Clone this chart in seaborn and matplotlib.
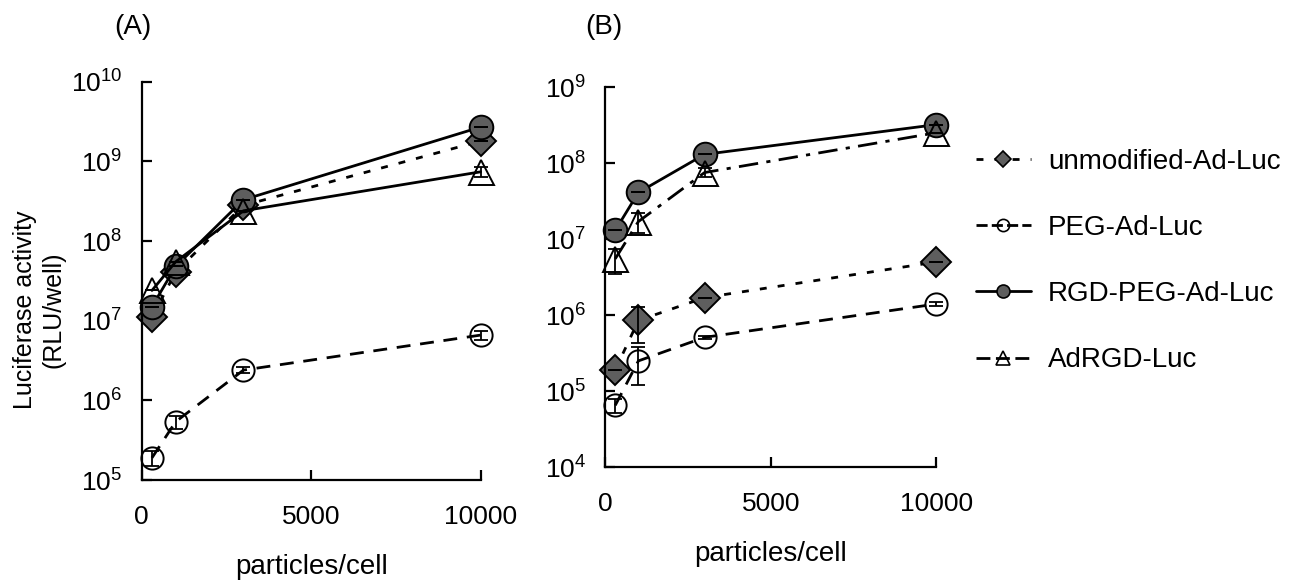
import matplotlib
matplotlib.use("Agg")
import matplotlib.pyplot as plt
from matplotlib.lines import Line2D
import seaborn as sns

particles = [300, 1000, 3000, 10000]

series_names = ["unmodified-Ad-Luc", "PEG-Ad-Luc", "RGD-PEG-Ad-Luc", "AdRGD-Luc"]

# panel A (RLU/well)
unmod_A = [1.1e7, 4.1e7, 2.8e8, 1.8e9]
peg_A = [1.9e5, 5.4e5, 2.4e6, 6.6e6]
rgd_A = [1.5e7, 4.8e7, 3.3e8, 2.7e9]
adrgd_A = [2.4e7, 5.5e7, 2.4e8, 7.4e8]
unmod_A_err = [0, 0, 0, 0]
peg_A_err = [4e4, 1e5, 2e5, 8e5]
rgd_A_err = [0, 0, 0, 0]
adrgd_A_err = [0, 0, 0, 1e8]

# panel B (RLU/well)
unmod_B = [1.9e5, 8.5e5, 1.7e6, 5.0e6]
peg_B = [6.5e4, 2.5e5, 5.1e5, 1.4e6]
rgd_B = [1.3e7, 4.1e7, 1.3e8, 3.2e8]
adrgd_B = [5.5e6, 1.7e7, 7.5e7, 2.5e8]
unmod_B_err = [0, 4.2e5, 0, 0]
peg_B_err = [1.4e4, 1.3e5, 2e4, 1e5]
rgd_B_err = [0, 0, 0, 0]
adrgd_B_err = [2e6, 5e6, 1e7, 0]

sns.set_theme(style="ticks")
plt.rcParams["font.family"] = ["Liberation Sans", "DejaVu Sans"]
plt.rcParams["mathtext.fontset"] = "custom"
plt.rcParams["mathtext.rm"] = "Liberation Sans"
plt.rcParams["text.color"] = "black"
plt.rcParams["axes.labelcolor"] = "black"

grey = "#5e5e5e"
dotted = (0, (2.5, 4))
dashed = (0, (5, 3.5))
dashdot = (0, (7, 3, 1.5, 3))

marker_style = {
    "unmodified-Ad-Luc": dict(marker="D", markersize=15, markerfacecolor=grey),
    "PEG-Ad-Luc": dict(marker="o", markersize=16, markerfacecolor="none"),
    "RGD-PEG-Ad-Luc": dict(marker="o", markersize=17, markerfacecolor=grey),
    "AdRGD-Luc": dict(marker="^", markersize=18, markerfacecolor="none"),
}


def draw_panel(ax, values, errors, styles, ylim):
    for name, y, err, ls in zip(series_names, values, errors, styles):
        sns.lineplot(x=particles, y=y, ax=ax, color="black", linewidth=2,
                     linestyle=ls, markeredgecolor="black", clip_on=False,
                     markeredgewidth=1.4, **marker_style[name])
        ax.errorbar(particles, y, yerr=err, fmt="none", ecolor="black",
                    elinewidth=1.3, capsize=5, capthick=1.3, clip_on=False)
    ax.set_yscale("log")
    ax.set_ylim(*ylim)
    ax.set_xlim(0, 10000)
    ax.set_xticks([0, 5000, 10000])
    ax.minorticks_off()
    sns.despine(ax=ax)
    for s in ["left", "bottom"]:
        ax.spines[s].set_linewidth(1.6)
        ax.spines[s].set_color("black")
    ax.tick_params(axis="both", direction="in", length=7, width=1.6,
                   labelsize=19, colors="black")
    ax.tick_params(axis="x", pad=18)
    ax.tick_params(axis="y", pad=14)
    ax.set_xlabel("particles/cell", fontsize=20, labelpad=18)
    ax.grid(False)


fig = plt.figure(figsize=(13.13, 5.84), dpi=100)
axA = fig.add_axes([0.108, 0.178, 0.258, 0.682])
axB = fig.add_axes([0.461, 0.200, 0.252, 0.651])

draw_panel(axA, [unmod_A, peg_A, rgd_A, adrgd_A],
           [unmod_A_err, peg_A_err, rgd_A_err, adrgd_A_err],
           [dotted, dashed, "-", "-"], (1e5, 1e10))
draw_panel(axB, [unmod_B, peg_B, rgd_B, adrgd_B],
           [unmod_B_err, peg_B_err, rgd_B_err, adrgd_B_err],
           [dotted, dashed, "-", dashdot], (1e4, 1e9))

fig.text(0.087, 0.953, "(A)", fontsize=20, va="center")
fig.text(0.446, 0.953, "(B)", fontsize=20, va="center")
fig.text(0.030, 0.47, "Luciferase activity\n(RLU/well)", rotation=90,
         fontsize=18, ha="center", va="center", linespacing=1.25)

legend_styles = [dotted, (0, (4, 1.5)), "-", (0, (5, 2))]
handles = []
for name, ls in zip(series_names, legend_styles):
    st = dict(marker_style[name])
    st["markersize"] = st["markersize"] * 0.55
    handles.append(Line2D([], [], color="black", linewidth=2, linestyle=ls,
                          markeredgecolor="black", markeredgewidth=1.2, **st))
fig.legend(handles, series_names, loc="center left",
           bbox_to_anchor=(0.724, 0.553), frameon=False, fontsize=20,
           handlelength=2.0, handletextpad=0.6, labelspacing=1.45)

fig.savefig("out.png", dpi=100)
